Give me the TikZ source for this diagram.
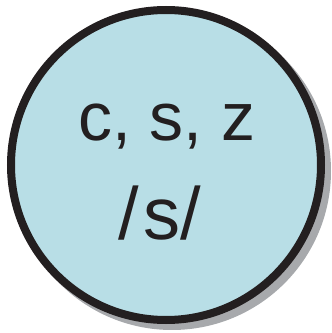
\documentclass[tikz,border=0pt]{standalone}
\usepackage{fontspec}
\setmainfont{Liberation Sans}
\definecolor{fillblue}{HTML}{B8DEE6}
\definecolor{edgeblack}{HTML}{231F20}
\definecolor{shadowgray}{HTML}{A7A9AC}
\begin{document}
\begin{tikzpicture}[x=1pt,y=1pt,
  lbl/.style={font=\fontsize{68}{68}\selectfont, text=edgeblack, inner sep=0pt, anchor=base}]
\useasboundingbox (0,0) rectangle (332,333);
\fill[shadowgray] (172,162) circle (159);
\node[circle, minimum size=310, inner sep=0pt, draw=edgeblack, line width=8, fill=fillblue] (c) at (166,168) {};
\node[lbl] (t1) at (167,193) {c, s, z};
\node[lbl, font=\fontsize{74}{74}\selectfont] (t2) at (160,93) {/\kern4pt s/};
\end{tikzpicture}
\end{document}
